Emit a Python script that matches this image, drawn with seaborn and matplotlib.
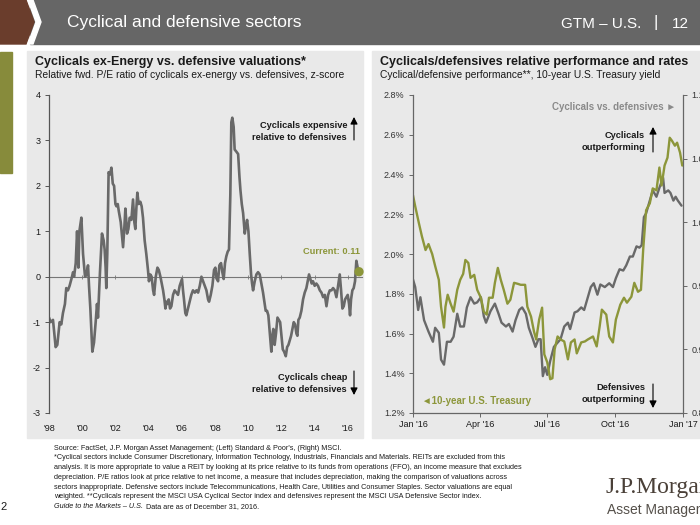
import matplotlib
matplotlib.use('Agg')
import matplotlib.pyplot as plt
from matplotlib import font_manager
from matplotlib.patches import Rectangle, Polygon
import numpy as np
import pandas as pd
import seaborn as sns

# Left chart: relative fwd P/E z-score (cyclicals ex-energy vs defensives)
pe_year = [1998.00, 1998.10, 1998.24, 1998.40, 1998.50, 1998.64, 1998.74, 1998.84, 1998.96,
           1999.04, 1999.14, 1999.24, 1999.35, 1999.45, 1999.51, 1999.61, 1999.69, 1999.77,
           1999.83, 1999.95, 2000.01, 2000.05, 2000.17, 2000.25, 2000.35, 2000.41, 2000.49,
           2000.61, 2000.71, 2000.81, 2000.89, 2000.95, 2001.01, 2001.07, 2001.19, 2001.29,
           2001.35, 2001.41, 2001.45, 2001.51, 2001.59, 2001.67, 2001.76, 2001.84, 2001.92,
           2002.00, 2002.06, 2002.14, 2002.20, 2002.32, 2002.40, 2002.46, 2002.54, 2002.60,
           2002.66, 2002.70, 2002.78, 2002.86, 2002.96, 2003.06, 2003.14, 2003.20, 2003.26,
           2003.32, 2003.40, 2003.50, 2003.58, 2003.66, 2003.76, 2003.86, 2003.96, 2004.02,
           2004.10, 2004.18, 2004.27, 2004.33, 2004.43, 2004.53, 2004.61, 2004.71, 2004.79,
           2004.87, 2004.95, 2005.01, 2005.07, 2005.13, 2005.21, 2005.29, 2005.37, 2005.47,
           2005.57, 2005.67, 2005.77, 2005.87, 2006.01, 2006.07, 2006.13, 2006.21, 2006.27,
           2006.37, 2006.47, 2006.57, 2006.67, 2006.78, 2006.88, 2006.98, 2007.08, 2007.18,
           2007.28, 2007.38, 2007.48, 2007.58, 2007.64, 2007.74, 2007.84, 2007.94, 2008.02,
           2008.08, 2008.18, 2008.26, 2008.36, 2008.44, 2008.52, 2008.60, 2008.68, 2008.76,
           2008.84, 2008.92, 2008.98, 2009.04, 2009.12, 2009.18, 2009.29, 2009.39, 2009.47,
           2009.53, 2009.61, 2009.69, 2009.79, 2009.85, 2009.93, 2010.01, 2010.09, 2010.17,
           2010.23, 2010.29, 2010.39, 2010.49, 2010.59, 2010.69, 2010.79, 2010.89, 2010.99,
           2011.05, 2011.13, 2011.21, 2011.29, 2011.39, 2011.45, 2011.51, 2011.59, 2011.67,
           2011.76, 2011.84, 2011.92, 2012.00, 2012.08, 2012.16, 2012.26, 2012.34, 2012.42,
           2012.50, 2012.58, 2012.66, 2012.74, 2012.82, 2012.90, 2012.96, 2013.02, 2013.10,
           2013.20, 2013.30, 2013.40, 2013.50, 2013.58, 2013.66, 2013.74, 2013.82, 2013.90,
           2014.00, 2014.10, 2014.20, 2014.31, 2014.41, 2014.51, 2014.61, 2014.71, 2014.81,
           2014.91, 2015.01, 2015.11, 2015.21, 2015.31, 2015.41, 2015.51, 2015.59, 2015.67,
           2015.75, 2015.83, 2015.91, 2015.99, 2016.07, 2016.13, 2016.19, 2016.27, 2016.35,
           2016.43, 2016.51, 2016.59, 2016.67]
pe_zscore = [-0.90, -1.00, -0.95, -1.55, -1.50, -1.00, -1.05, -0.80, -0.60,
             -0.25, -0.30, -0.20, -0.05, 0.10, 0.00, 0.30, 1.00, 0.20,
             1.00, 1.30, 0.80, 0.50, 0.00, 0.05, 0.25, -0.20, -0.70,
             -1.65, -1.45, -1.00, -0.60, -0.90, -0.40, 0.10, 0.95, 0.80,
             0.60, 0.20, -0.25, 0.50, 2.30, 2.25, 2.40, 2.05, 2.00,
             1.60, 1.55, 1.60, 1.45, 1.20, 0.90, 0.65, 1.10, 1.50,
             1.20, 0.95, 1.05, 1.30, 1.25, 1.70, 1.20, 1.05, 1.50,
             1.85, 1.60, 1.65, 1.55, 1.30, 0.80, 0.50, 0.15, -0.10,
             0.05, 0.00, -0.30, -0.40, 0.00, 0.20, 0.15, 0.00, -0.15,
             -0.30, -0.50, -0.70, -0.55, -0.60, -0.50, -0.70, -0.65, -0.40,
             -0.30, -0.35, -0.40, -0.20, -0.05, -0.30, -0.50, -0.80, -0.85,
             -0.70, -0.55, -0.40, -0.30, -0.35, -0.30, -0.35, -0.20, 0.00,
             -0.10, -0.20, -0.30, -0.50, -0.55, -0.40, -0.20, 0.15, 0.20,
             0.00, -0.10, 0.25, 0.30, 0.10, -0.05, 0.30, 0.45, 0.55,
             0.60, 1.80, 3.40, 3.50, 3.30, 2.80, 2.75, 2.70, 2.20,
             1.90, 1.60, 1.40, 0.95, 1.10, 1.25, 1.00, 0.50, 0.05,
             -0.15, -0.30, -0.10, 0.05, 0.10, 0.05, -0.15, -0.35, -0.60,
             -0.75, -0.75, -0.85, -1.20, -1.65, -1.30, -1.15, -1.50, -1.25,
             -0.90, -0.95, -1.00, -1.30, -1.60, -1.65, -1.75, -1.55, -1.50,
             -1.40, -1.30, -1.15, -1.00, -1.05, -1.25, -1.30, -0.95, -0.90,
             -0.75, -0.50, -0.35, -0.25, -0.10, 0.05, -0.05, -0.15, -0.10,
             -0.20, -0.15, -0.20, -0.30, -0.35, -0.45, -0.40, -0.65, -0.40,
             -0.30, -0.30, -0.25, -0.30, -0.45, -0.20, 0.05, -0.30, -0.70,
             -0.65, -0.50, -0.45, -0.40, -0.60, -0.85, -0.50, -0.30, -0.25,
             -0.10, 0.35, 0.20, 0.11]
pe_ticks = [1998, 2000, 2002, 2004, 2006, 2008, 2010, 2012, 2014, 2016]
pe_tick_labels = ["'98", "'00", "'02", "'04", "'06", "'08", "'10", "'12", "'14", "'16"]
pe_current = 0.11

# Right chart: 10-year Treasury yield (%) by day of 2016
tsy_day = [0, 3, 8, 12, 17, 21, 26, 30, 35, 38, 42, 44, 47, 51, 55, 60, 64, 68, 71, 75,
           78, 83, 87, 92, 96, 100, 103, 108, 111, 115, 119, 123, 128, 132, 137, 142, 146,
           152, 155, 160, 164, 167, 171, 175, 178, 182, 186, 189, 192, 196, 200, 205, 210,
           214, 219, 222, 228, 233, 237, 244, 249, 253, 256, 262, 266, 271, 275, 281, 286,
           290, 296, 300, 305, 309, 312, 316, 321, 325, 330, 334, 337, 341, 345, 348, 351,
           355, 358, 362, 365]
tsy_yield = [2.295, 2.24, 2.155, 2.09, 2.02, 2.05, 2.00, 1.94, 1.87, 1.735, 1.63, 1.735,
             1.795, 1.75, 1.71, 1.82, 1.87, 1.90, 1.97, 1.955, 1.88, 1.895, 1.82, 1.78,
             1.71, 1.695, 1.78, 1.78, 1.855, 1.93, 1.87, 1.82, 1.75, 1.77, 1.855, 1.85,
             1.845, 1.845, 1.735, 1.685, 1.61, 1.57, 1.67, 1.73, 1.495, 1.455, 1.37, 1.375,
             1.52, 1.585, 1.57, 1.56, 1.47, 1.555, 1.57, 1.50, 1.555, 1.56, 1.57, 1.585,
             1.535, 1.635, 1.72, 1.695, 1.585, 1.555, 1.67, 1.745, 1.78, 1.755, 1.785,
             1.855, 1.81, 1.82, 2.02, 2.22, 2.255, 2.33, 2.32, 2.435, 2.345, 2.445, 2.485,
             2.585, 2.57, 2.545, 2.56, 2.51, 2.445]

# Right chart: cyclicals vs defensives relative performance by day of 2016
cyc_day = [0, 3, 7, 10, 15, 21, 27, 30, 35, 38, 42, 46, 51, 55, 60, 64, 69, 73, 78, 83,
           87, 92, 96, 99, 105, 111, 116, 120, 126, 130, 135, 139, 144, 148, 153, 157, 162,
           166, 170, 173, 176, 179, 182, 186, 191, 200, 205, 210, 213, 219, 223, 228, 232,
           237, 241, 245, 250, 254, 260, 266, 271, 275, 280, 285, 289, 294, 298, 303, 307,
           310, 313, 316, 321, 325, 330, 334, 339, 341, 346, 349, 353, 356, 359, 364]
cyc_rel = [0.955, 0.949, 0.931, 0.941, 0.923, 0.914, 0.906, 0.917, 0.913, 0.892, 0.888,
           0.906, 0.906, 0.910, 0.928, 0.918, 0.918, 0.933, 0.941, 0.936, 0.937, 0.941,
           0.926, 0.921, 0.930, 0.936, 0.928, 0.921, 0.918, 0.920, 0.914, 0.923, 0.931,
           0.933, 0.928, 0.917, 0.909, 0.902, 0.908, 0.908, 0.879, 0.886, 0.880, 0.891,
           0.902, 0.908, 0.918, 0.921, 0.916, 0.929, 0.930, 0.933, 0.931, 0.941, 0.949,
           0.952, 0.943, 0.951, 0.949, 0.952, 0.949, 0.956, 0.963, 0.962, 0.966, 0.973,
           0.973, 0.981, 0.980, 0.982, 1.004, 1.007, 1.017, 1.025, 1.020, 1.027, 1.035,
           1.023, 1.025, 1.023, 1.017, 1.020, 1.017, 1.013]

yield_ticks = [1.2, 1.4, 1.6, 1.8, 2.0, 2.2, 2.4, 2.6, 2.8]
rel_ticks = [0.85, 0.90, 0.95, 1.00, 1.05, 1.10]
month_ticks = ['2016-01-01', '2016-04-01', '2016-07-01', '2016-10-01', '2017-01-01']
month_labels = ["Jan '16", "Apr '16", "Jul '16", "Oct '16", "Jan '17"]

footnotes = [
    "Source: FactSet, J.P. Morgan Asset Management; (Left) Standard & Poor's, (Right) MSCI.",
    "*Cyclical sectors include Consumer Discretionary, Information Technology, Industrials, Financials and Materials. REITs are excluded from this",
    "analysis. It is more appropriate to value a REIT by looking at its price relative to its funds from operations (FFO), an income measure that excludes",
    "depreciation. P/E ratios look at price relative to net income, a measure that includes depreciation, making the comparison of valuations across",
    "sectors inappropriate. Defensive sectors include Telecommunications, Health Care, Utilities and Consumer Staples. Sector valuations are equal",
    "weighted. **Cyclicals represent the MSCI USA Cyclical Sector index and defensives represent the MSCI USA Defensive Sector index.",
]

GRAY_LINE = '#696969'
OLIVE = '#8c963a'
PANEL = '#e9e9e9'
TXT = '#1a1a1a'

sns.set_theme(style='white')
plt.rcParams['font.family'] = ['Liberation Sans', 'DejaVu Sans']
plt.rcParams['axes.unicode_minus'] = False

installed = {f.name for f in font_manager.fontManager.ttflist}
narrow = 'Liberation Sans Narrow' if 'Liberation Sans Narrow' in installed else 'Liberation Sans'

W, H = 700, 525
fig = plt.figure(figsize=(7, 5.25), dpi=100)
fig.patch.set_facecolor('white')


def fx(x):
    return x / W


def fy(y):
    return 1 - y / H


def box(x0, y0, x1, y1):
    return [fx(x0), fy(y1), fx(x1) - fx(x0), fy(y0) - fy(y1)]


def fig_rect(x0, y0, x1, y1, color):
    fig.patches.append(Rectangle((fx(x0), fy(y1)), fx(x1) - fx(x0), fy(y0) - fy(y1),
                                 transform=fig.transFigure, color=color, zorder=-5))


# header band
fig_rect(30, 0, 700, 44, '#666666')
fig.patches.append(Polygon([(fx(0), fy(0)), (fx(26), fy(0)), (fx(34), fy(22)), (fx(26), fy(44)),
                            (fx(0), fy(44))], closed=True, transform=fig.transFigure,
                           color='#6a3d2c', zorder=-4))
fig.patches.append(Polygon([(fx(28), fy(0)), (fx(33), fy(0)), (fx(41), fy(22)), (fx(33), fy(44)),
                            (fx(28), fy(44)), (fx(36), fy(22))], closed=True,
                           transform=fig.transFigure, color='white', zorder=-4))
fig.text(fx(67), fy(23), 'Cyclical and defensive sectors', color='white', fontsize=12.5,
         family=narrow, va='center', ha='left')
fig.text(fx(641), fy(24), 'GTM – U.S.', color='white', fontsize=11, family=narrow,
         va='center', ha='right')
fig.text(fx(656), fy(23), '|', color='white', fontsize=12, family=narrow, va='center', ha='center')
fig.text(fx(672), fy(24), '12', color='white', fontsize=11, family=narrow, va='center', ha='left')

# side tab and panels
fig_rect(0, 52, 12, 173, '#878b3b')
fig_rect(27, 51, 363, 438, PANEL)
fig_rect(372, 51, 700, 438, PANEL)

fig.text(fx(35), fy(62), 'Cyclicals ex-Energy vs. defensive valuations*', fontsize=9.0,
         fontweight='bold', color=TXT, va='center')
fig.text(fx(35), fy(75), 'Relative fwd. P/E ratio of cyclicals ex-energy vs. defensives, z-score',
         fontsize=7.4, color=TXT, va='center')
fig.text(fx(380), fy(62), 'Cyclicals/defensives relative performance and rates', fontsize=9.0,
         fontweight='bold', color=TXT, va='center')
fig.text(fx(380), fy(75), 'Cyclical/defensive performance**, 10-year U.S. Treasury yield',
         fontsize=7.4, color=TXT, va='center')

# ---- left chart ----
ax1 = fig.add_axes(box(49, 95, 362, 413))
ax1.patch.set_visible(False)
pe = pd.DataFrame({'year': pe_year, 'z': pe_zscore})
sns.lineplot(data=pe, x='year', y='z', ax=ax1, color=GRAY_LINE, linewidth=1.9)
ax1.scatter([pe_year[-1]], [pe_current], s=45, color=OLIVE, zorder=5, edgecolor='none',
            clip_on=False)
ax1.set_xlim(1998, 2016.85)
ax1.set_ylim(-3, 4)
ax1.set_yticks(range(-3, 5))
ax1.set_xticks(pe_ticks)
ax1.set_xticklabels(pe_tick_labels)
ax1.set_xlabel('')
ax1.set_ylabel('')
for s in ['top', 'right', 'bottom']:
    ax1.spines[s].set_visible(False)
ax1.spines['left'].set_color('#555555')
ax1.spines['left'].set_linewidth(0.9)
ax1.tick_params(axis='y', left=True, length=3, width=0.7, color='#555555', labelsize=6.5,
                labelcolor=TXT, pad=3)
ax1.tick_params(axis='x', bottom=False, labelsize=6.5, labelcolor=TXT, pad=2)
zero = ax1.secondary_xaxis(3 / 7)
zero.set_xticks(pe_ticks)
zero.tick_params(axis='x', direction='inout', length=3, width=0.6, color='#777777', labelbottom=False)
zero.spines['bottom'].set_color('#777777')
zero.spines['bottom'].set_linewidth(0.8)

fig.text(fx(347), fy(125), 'Cyclicals expensive', fontsize=6.7, fontweight='bold', color=TXT,
         ha='right', va='center')
fig.text(fx(347), fy(137), 'relative to defensives', fontsize=6.7, fontweight='bold', color=TXT,
         ha='right', va='center')
fig.text(fx(360), fy(251), 'Current: 0.11', fontsize=6.7, fontweight='bold', color=OLIVE,
         ha='right', va='center')
fig.text(fx(347), fy(377), 'Cyclicals cheap', fontsize=6.7, fontweight='bold', color=TXT,
         ha='right', va='center')
fig.text(fx(347), fy(389), 'relative to defensives', fontsize=6.7, fontweight='bold', color=TXT,
         ha='right', va='center')
arrow = dict(arrowstyle='-|>,head_length=0.35,head_width=0.18', color='black', lw=0.8,
             shrinkA=0, shrinkB=0)
ax1.annotate('', xy=(fx(354), fy(117)), xytext=(fx(354), fy(140)), xycoords='figure fraction',
             textcoords='figure fraction', arrowprops=arrow)
ax1.annotate('', xy=(fx(354), fy(395)), xytext=(fx(354), fy(371)), xycoords='figure fraction',
             textcoords='figure fraction', arrowprops=arrow)

# ---- right chart ----
start = pd.Timestamp('2016-01-01')
tsy = pd.DataFrame({'date': start + pd.to_timedelta(tsy_day, unit='D'), 'yield': tsy_yield})
cyc = pd.DataFrame({'date': start + pd.to_timedelta(cyc_day, unit='D'), 'rel': cyc_rel})

ax2 = fig.add_axes(box(413, 95, 683, 413))
ax3 = ax2.twinx()
sns.lineplot(data=cyc, x='date', y='rel', ax=ax3, color=GRAY_LINE, linewidth=1.7)
sns.lineplot(data=tsy, x='date', y='yield', ax=ax2, color=OLIVE, linewidth=1.7)
ax2.set_zorder(ax3.get_zorder() + 1)
ax2.patch.set_visible(False)
ax3.patch.set_visible(False)

ax2.set_xlim(pd.Timestamp('2016-01-01'), pd.Timestamp('2017-01-01'))
ax2.set_ylim(1.2, 2.8)
ax3.set_ylim(0.85, 1.10)
ax2.set_yticks(yield_ticks)
ax2.set_yticklabels([f'{v:.1f}%' for v in yield_ticks])
ax3.set_yticks(rel_ticks)
ax3.set_yticklabels([f'{v:.2f}' for v in rel_ticks])
ax2.set_xticks(pd.to_datetime(month_ticks))
ax2.set_xticklabels(month_labels)
for a in (ax2, ax3):
    a.set_xlabel('')
    a.set_ylabel('')
    a.spines['top'].set_visible(False)
    for s in ['left', 'right', 'bottom']:
        a.spines[s].set_color('#666666')
        a.spines[s].set_linewidth(0.9)
ax2.spines['right'].set_visible(False)
ax3.spines['left'].set_visible(False)
ax3.spines['bottom'].set_visible(False)
ax2.tick_params(axis='y', left=True, length=3, width=0.7, color='#666666', labelsize=6.5,
                labelcolor='#333333', pad=3)
ax2.tick_params(axis='x', bottom=True, length=3, width=0.7, color='#666666', labelsize=6.5,
                labelcolor=TXT, pad=2)
ax3.tick_params(axis='y', right=True, length=3, width=0.7, color='#666666', labelsize=6.5,
                labelcolor='#333333', pad=3)

fig.text(fx(676), fy(107), 'Cyclicals vs. defensives ►', fontsize=7.0, fontweight='bold',
         color='#8a8a8a', ha='right', va='center')
fig.text(fx(645), fy(135), 'Cyclicals', fontsize=6.7, fontweight='bold', color=TXT,
         ha='right', va='center')
fig.text(fx(645), fy(147), 'outperforming', fontsize=6.7, fontweight='bold', color=TXT,
         ha='right', va='center')
fig.text(fx(422), fy(401), '◄10-year U.S. Treasury', fontsize=7.0, fontweight='bold',
         color=OLIVE, ha='left', va='center')
fig.text(fx(645), fy(388), 'Defensives', fontsize=6.7, fontweight='bold', color=TXT,
         ha='right', va='center')
fig.text(fx(645), fy(400), 'outperforming', fontsize=6.7, fontweight='bold', color=TXT,
         ha='right', va='center')
ax2.annotate('', xy=(fx(653), fy(127)), xytext=(fx(653), fy(152)), xycoords='figure fraction',
             textcoords='figure fraction', arrowprops=arrow)
ax2.annotate('', xy=(fx(653), fy(408)), xytext=(fx(653), fy(384)), xycoords='figure fraction',
             textcoords='figure fraction', arrowprops=arrow)

# ---- footer ----
for i, line in enumerate(footnotes):
    fig.text(fx(54), fy(448 + i * 9.8), line, fontsize=5.2, color=TXT, va='center')
fig.text(fx(54), fy(507), 'Guide to the Markets – U.S.', fontsize=5.2, color=TXT, va='center',
         style='italic')
fig.text(fx(146), fy(507), 'Data are as of December 31, 2016.', fontsize=5.2, color=TXT,
         va='center')
fig.text(fx(0), fy(507), '2', fontsize=8, color=TXT, va='center', ha='left')
fig.text(fx(606), fy(487), 'J.P.Morgan', fontsize=17, family=['Liberation Serif', 'DejaVu Serif'],
         color='#4a4038', va='center', ha='left')
fig.text(fx(607), fy(510), 'Asset Management', fontsize=10, family=narrow, color='#55504a',
         va='center', ha='left')

fig.savefig('out.png', dpi=100)
